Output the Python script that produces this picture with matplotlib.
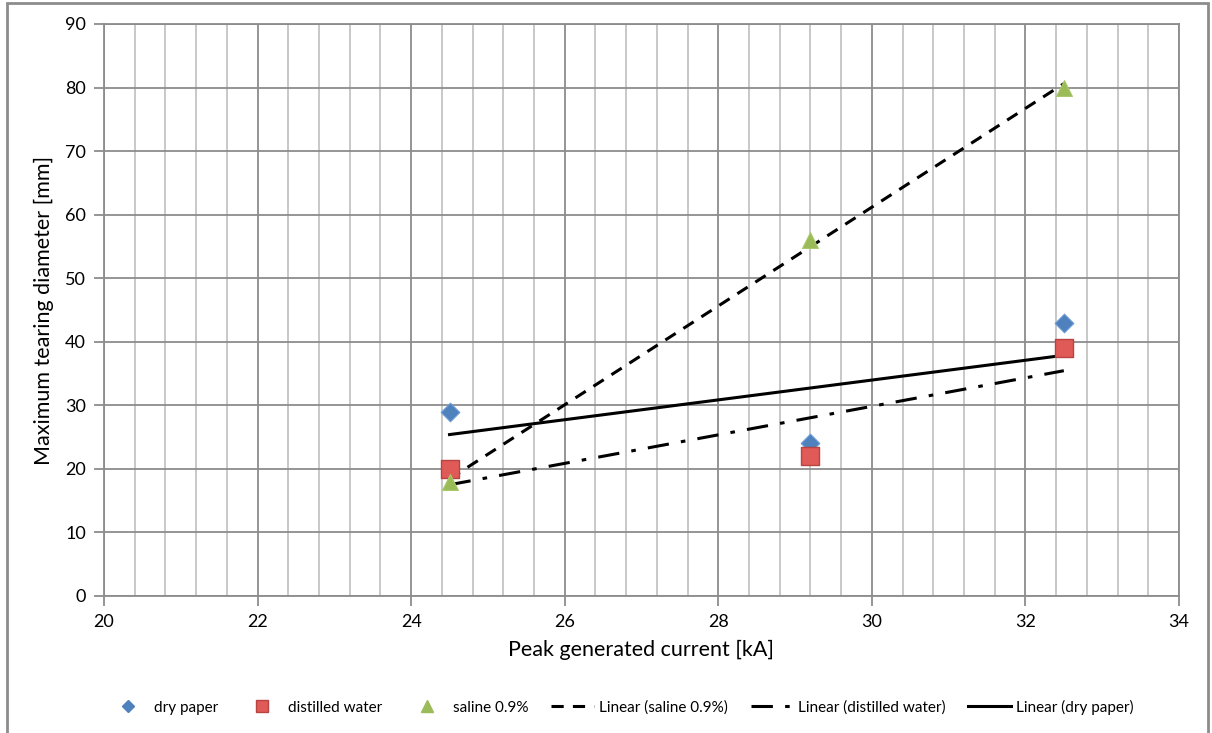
import numpy as np
import matplotlib
matplotlib.use("Agg")
import matplotlib.pyplot as plt
from matplotlib.ticker import MultipleLocator
from matplotlib.lines import Line2D
from matplotlib.patches import Rectangle

plt.rcParams['font.family'] = ['Lato', 'DejaVu Sans']

current = [24.5, 29.2, 32.5]
dry_paper = [29, 24, 43]
distilled_water = [20, 22, 39]
saline = [18, 56, 80]

fig = plt.figure(figsize=(12.12, 7.33), dpi=100)
ax = fig.add_axes([104/1212, 1-596/733, (1179-104)/1212, (596-24)/733])

ax.set_xlim(20, 34)
ax.set_ylim(0, 90)
ax.xaxis.set_major_locator(MultipleLocator(2))
ax.xaxis.set_minor_locator(MultipleLocator(0.4))
ax.yaxis.set_major_locator(MultipleLocator(10))
ax.grid(which='major', axis='both', color='#8c8c8c', lw=1.3)
ax.grid(which='minor', axis='x', color='#c4c4c4', lw=1.3)
ax.set_axisbelow(True)
for s in ax.spines.values():
    s.set_color('#8c8c8c')
    s.set_linewidth(1.3)
ax.tick_params(which='major', length=7, width=1.3, color='#8c8c8c', labelsize=13, pad=6)
ax.tick_params(which='minor', length=0)

xs = np.array(current)
xfit = np.array([min(current), max(current)])
fits = {}
for name, ys in [('saline', saline), ('distilled', distilled_water), ('dry', dry_paper)]:
    p = np.polyfit(xs, np.array(ys), 1)
    fits[name] = np.polyval(p, xfit)

ax.plot(xfit, fits['dry'], color='black', lw=2.2, zorder=3)
ax.plot(xfit, fits['distilled'], color='black', lw=2.2, dashes=(7, 4, 1.5, 4), zorder=3)
ax.plot(xfit, fits['saline'], color='black', lw=2.2, dashes=(4, 3), zorder=3)

ax.scatter(current, dry_paper, marker='D', s=90, color='#4F81BD', edgecolor='#6C9BD8', lw=0.8, zorder=4)
ax.scatter(current, distilled_water, marker='s', s=150, color='#E05A57', edgecolor='#B84340', lw=1.0, zorder=4)
ax.scatter(current, saline, marker='^', s=130, color='#9BBB59', edgecolor='#A8C86A', lw=0.8, zorder=4)

ax.set_xlabel('Peak generated current [kA]', fontsize=15.5, labelpad=7)
ax.set_ylabel('Maximum tearing diameter [mm]', fontsize=15.5, labelpad=8)

handles = [
    Line2D([], [], ls='none', marker='D', ms=6, color='#4F81BD'),
    Line2D([], [], ls='none', marker='s', ms=8, color='#E05A57', markeredgecolor='#B84340'),
    Line2D([], [], ls='none', marker='^', ms=8, color='#9BBB59'),
    Line2D([], [], color='black', lw=2.2, dashes=(4, 3)),
    Line2D([], [], color='black', lw=2.2, dashes=(7, 4, 1.5, 4)),
    Line2D([], [], color='black', lw=2.2),
]
labels = ['dry paper', 'distilled water', 'saline 0.9%', 'Linear (saline 0.9%)',
          'Linear (distilled water)', 'Linear (dry paper)']
fig.legend(handles, labels, loc='center', bbox_to_anchor=(620/1212, 1-707/733), ncol=6,
           frameon=False, fontsize=11, handlelength=2.8, columnspacing=1.5, handletextpad=0.3)

fig.patches.append(Rectangle((7/1212, -0.05), (1208-7)/1212, 1.05-3/733, transform=fig.transFigure,
                             fill=False, edgecolor='#8c8c8c', lw=2))

fig.savefig('out.png', dpi=100)
